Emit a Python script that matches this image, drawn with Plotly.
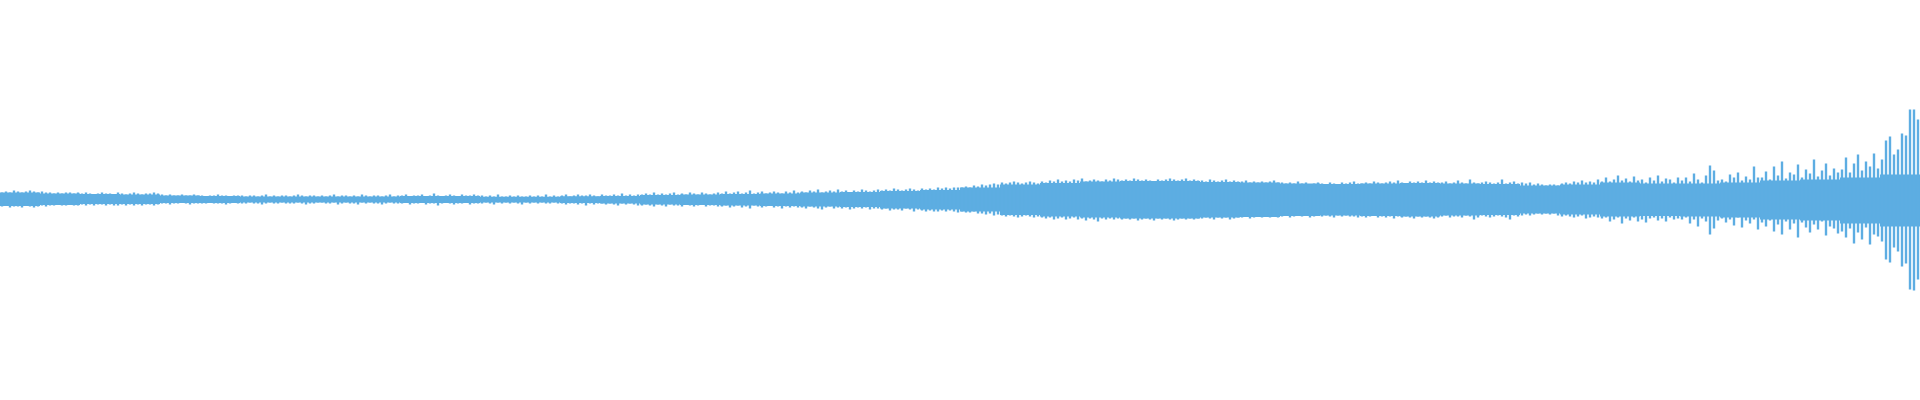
import plotly.graph_objects as go

# Envelope (solid core) of the waveform, one value per 40-px block, in pixels from the centre line
body_top = [7, 6, 5.5, 5, 4, 3.5, 3, 3, 3, 3, 3.5, 3.5,
            2.8, 2.8, 3.2, 3.5, 4.5, 5, 5.5, 6, 7, 7.5, 8.5, 9.5,
            12, 15, 16.5, 18, 18.5, 18.5, 17.5, 17, 16, 15.5, 16, 16.5,
            16, 15.5, 14, 15, 17, 16, 16, 17, 19, 20, 22, 25]
body_bot = [6.5, 5.5, 4.5, 4.5, 3.5, 3.5, 3, 3, 3, 3, 3.5, 3.5,
            3, 3, 3.5, 4, 5, 5.5, 6, 6.5, 7, 7.5, 9, 10,
            12, 15.5, 17, 18, 19, 19, 18, 17.5, 16.5, 16, 16.5, 17,
            16, 15.5, 14, 15, 17, 16.5, 17, 18, 20, 21, 24, 27]

# Peak heights, one per 4-px column (upper and lower half of the waveform)
peak_top = [
    7, 8, 7, 9, 8, 7, 8, 9, 8, 7, 8, 7, 7, 6, 7, 6, 7, 7, 6, 7,
    6, 7, 6, 5, 6, 7, 6, 6, 5, 7, 6, 5, 6, 7, 6, 5, 6, 6, 7, 6,
    5, 4, 5, 4, 4, 5, 4, 4, 5, 4, 4, 3, 4, 4, 5, 4, 4, 3, 4, 4,
    4, 3, 4, 4, 3, 4, 5, 3, 4, 3, 4, 4, 3, 4, 5, 4, 3, 4, 4, 3,
    4, 3, 4, 5, 3, 4, 4, 3, 4, 3, 5, 4, 3, 4, 4, 3, 4, 5, 3, 4,
    4, 5, 3, 4, 4, 5, 3, 4, 6, 4, 3, 4, 5, 4, 3, 5, 4, 4, 5, 4,
    4, 3, 4, 3, 5, 3, 3, 4, 3, 4, 3, 3, 4, 3, 4, 3, 5, 3, 4, 3,
    4, 5, 3, 4, 5, 4, 4, 5, 4, 3, 5, 4, 4, 5, 4, 6, 4, 5, 4, 5,
    5, 6, 5, 7, 5, 6, 5, 6, 7, 5, 6, 5, 7, 6, 5, 7, 6, 5, 6, 7,
    6, 8, 6, 7, 8, 6, 7, 9, 6, 7, 8, 6, 7, 8, 7, 6, 8, 7, 9, 7,
    8, 7, 9, 8, 10, 7, 8, 9, 8, 10, 8, 9, 7, 9, 8, 10, 9, 8, 9, 10,
    9, 10, 9, 11, 10, 9, 10, 11, 10, 9, 11, 10, 11, 10, 12, 11, 12, 11, 12, 12,
    12, 13, 12, 14, 13, 15, 14, 15, 16, 15, 17, 16, 17, 18, 17, 16, 17, 18, 17, 16,
    18, 17, 19, 18, 20, 18, 19, 18, 20, 19, 21, 18, 19, 20, 19, 18, 20, 19, 21, 20,
    19, 20, 19, 21, 20, 19, 20, 19, 18, 20, 19, 20, 21, 20, 19, 20, 21, 19, 20, 19,
    19, 18, 20, 19, 18, 19, 20, 18, 19, 18, 18, 19, 17, 18, 17, 18, 17, 18, 19, 17,
    17, 16, 17, 16, 18, 16, 17, 15, 16, 17, 16, 15, 17, 16, 15, 17, 16, 17, 18, 16,
    16, 17, 16, 18, 17, 16, 17, 18, 17, 19, 17, 16, 18, 17, 18, 17, 19, 17, 18, 17,
    17, 18, 16, 17, 19, 17, 16, 20, 17, 16, 17, 18, 17, 16, 17, 20, 16, 17, 18, 16,
    17, 16, 17, 15, 16, 15, 14, 15, 15, 14, 16, 17, 16, 18, 17, 19, 17, 18, 17, 20,
    18, 22, 18, 20, 24, 19, 21, 18, 23, 19, 20, 17, 22, 19, 24, 18, 21, 20, 17, 22,
    19, 22, 18, 26, 20, 17, 24, 34, 29, 19, 20, 18, 25, 22, 27, 19, 23, 20, 33, 22,
    22, 28, 20, 33, 24, 38, 21, 27, 25, 35, 22, 30, 26, 40, 23, 29, 36, 24, 31, 27,
    30, 42, 27, 36, 45, 29, 38, 33, 46, 31, 40, 59, 63, 45, 50, 66, 64, 90, 90, 80,
]
peak_bot = [
    7, 6, 8, 7, 7, 8, 6, 7, 8, 7, 6, 7, 6, 6, 5, 6, 6, 5, 6, 6,
    5, 6, 5, 6, 5, 5, 6, 5, 6, 6, 5, 6, 5, 6, 5, 6, 5, 5, 6, 5,
    4, 4, 5, 4, 4, 3, 4, 5, 4, 4, 4, 4, 3, 4, 4, 4, 5, 4, 3, 4,
    4, 4, 3, 4, 4, 5, 4, 3, 4, 4, 3, 4, 4, 4, 3, 4, 5, 4, 4, 3,
    3, 4, 4, 3, 5, 4, 3, 4, 4, 5, 3, 4, 3, 4, 4, 5, 4, 3, 4, 4,
    4, 3, 5, 4, 4, 3, 5, 4, 4, 6, 4, 3, 4, 5, 4, 4, 3, 5, 4, 4,
    4, 3, 4, 5, 3, 4, 3, 4, 3, 4, 5, 3, 4, 3, 4, 3, 4, 4, 3, 4,
    4, 5, 4, 4, 5, 4, 6, 4, 5, 4, 4, 5, 4, 5, 6, 4, 5, 4, 5, 6,
    6, 5, 6, 7, 5, 6, 7, 5, 6, 6, 7, 5, 6, 7, 6, 5, 7, 6, 6, 7,
    7, 6, 8, 7, 6, 8, 7, 9, 6, 7, 8, 7, 6, 8, 7, 9, 7, 8, 7, 8,
    8, 9, 7, 8, 9, 10, 8, 7, 9, 8, 9, 8, 10, 9, 8, 9, 8, 10, 9, 9,
    10, 9, 11, 10, 10, 11, 9, 10, 12, 10, 11, 12, 11, 12, 12, 11, 12, 11, 12, 13,
    12, 13, 13, 12, 14, 14, 15, 14, 16, 15, 16, 17, 16, 17, 18, 17, 16, 17, 18, 17,
    18, 19, 18, 20, 19, 18, 20, 19, 18, 20, 19, 21, 19, 20, 22, 19, 20, 19, 20, 19,
    20, 19, 20, 19, 21, 20, 19, 20, 21, 19, 20, 19, 20, 21, 20, 19, 20, 19, 20, 19,
    19, 18, 19, 20, 18, 19, 18, 20, 19, 18, 18, 17, 19, 18, 17, 18, 17, 18, 17, 18,
    17, 16, 18, 17, 16, 17, 16, 18, 17, 16, 17, 16, 17, 18, 16, 17, 16, 17, 17, 18,
    17, 18, 17, 16, 18, 17, 18, 17, 19, 17, 18, 17, 18, 19, 17, 18, 17, 18, 19, 18,
    17, 16, 18, 17, 17, 18, 16, 17, 20, 18, 16, 17, 18, 17, 16, 17, 18, 20, 16, 17,
    16, 15, 16, 15, 14, 15, 14, 15, 14, 16, 17, 16, 17, 18, 17, 16, 19, 18, 17, 18,
    19, 18, 22, 20, 18, 24, 19, 21, 18, 22, 20, 23, 19, 18, 21, 19, 22, 18, 20, 19,
    20, 18, 24, 20, 27, 19, 22, 35, 29, 21, 19, 23, 20, 26, 18, 28, 21, 24, 20, 30,
    23, 27, 21, 32, 25, 35, 22, 30, 24, 38, 23, 28, 33, 25, 30, 22, 36, 27, 29, 34,
    32, 38, 29, 44, 33, 40, 28, 45, 35, 37, 42, 60, 63, 48, 52, 67, 64, 90, 91, 80,
]

COLOR = "#5DADE2"
BLOCK = 40   # px per envelope value
COL = 4      # px per peak value

body_x = [BLOCK * i + BLOCK / 2 for i in range(len(body_top))]
peak_x = [COL * i + COL / 2 for i in range(len(peak_top))]

fig = go.Figure()
fig.add_trace(go.Bar(
    x=body_x,
    y=[t + b for t, b in zip(body_top, body_bot)],
    base=[-b for b in body_bot],
    width=BLOCK,
    marker=dict(color=COLOR, line=dict(width=0)),
    hoverinfo="skip",
))
fig.add_trace(go.Bar(
    x=peak_x,
    y=[t + b for t, b in zip(peak_top, peak_bot)],
    base=[-b for b in peak_bot],
    width=2.4,
    marker=dict(color=COLOR, line=dict(width=0)),
    hoverinfo="skip",
))

fig.update_layout(
    width=1920, height=400,
    margin=dict(l=0, r=0, t=0, b=0),
    paper_bgcolor="white", plot_bgcolor="white",
    barmode="overlay",
    showlegend=False,
    xaxis=dict(range=[0, 1920], visible=False, fixedrange=True),
    yaxis=dict(range=[-200.5, 199.5], visible=False, fixedrange=True),
)

fig.write_html(
    "out.html",
    config={"displayModeBar": False},
    post_script="document.body.style.margin='0';document.body.style.overflow='hidden';",
)
